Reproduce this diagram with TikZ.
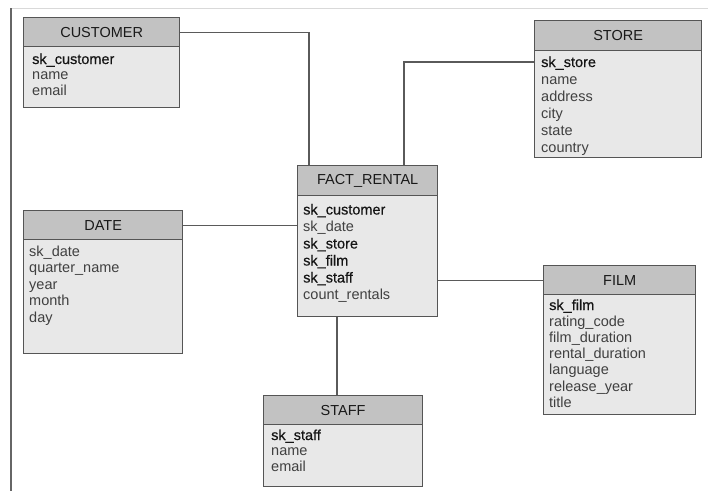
\documentclass[tikz,border=0pt]{standalone}
\usepackage{fontspec}
\setmainfont{Liberation Sans}
\newfontfamily\keyfont{Liberation Sans}[FakeBold=0.5]
\newfontfamily\midfont{Liberation Sans}[FakeBold=0.25]
\usetikzlibrary{calc}

\definecolor{hdrfill}{HTML}{C2C2C2}
\definecolor{bodyfill}{HTML}{E8E8E8}
\definecolor{edge}{HTML}{555555}
\definecolor{linkc}{HTML}{5A5A5A}
\definecolor{attrc}{HTML}{404040}
\definecolor{keyc}{HTML}{151515}

\tikzset{
  tbody/.style={draw=edge, line width=1.3pt, fill=bodyfill, inner sep=0pt, rectangle},
  thead/.style={draw=edge, line width=1.3pt, fill=hdrfill, inner sep=0pt, rectangle,
                font=\fontsize{14.5}{16}\selectfont, text=black!90},
  field/.style={inner sep=0pt, font=\fontsize{14.5}{16}\selectfont},
  pkfield/.style={text=keyc, font=\fontsize{14.5}{16}\keyfont},
  darkfield/.style={text=keyc, font=\fontsize{14.5}{16}\midfont},
  attrfield/.style={text=attrc},
  link/.style={draw=linkc, line width=1.1pt},
}

% one table's field rows, one named node per row
\newcommand\fieldlist[5]{%
  \foreach \txt/\kind [count=\i] in {#5} {%
    \node[field, \kind, anchor=base west] (#1-\i) at (#2, {#3+(\i-1)*#4}) {\txt};
  }%
}

\begin{document}
\begin{tikzpicture}[x=1pt, y=-1pt]
\useasboundingbox (0,0) rectangle (708,491);

% page frame
\draw[draw=black!15, line width=0.8pt] (11,8) -- (708,8);
\draw[draw=black!60, line width=1.4pt] (11,8) -- (11,491);

% CUSTOMER
\node[tbody, anchor=north west, minimum width=156, minimum height=90] (customer) at (23,17) {};
\node[thead, anchor=north west, minimum width=156, minimum height=29] (customer-h) at (customer.north west) {CUSTOMER};
\fieldlist{customer}{32}{64}{15.5}{sk\_customer/pkfield, name/attrfield, email/attrfield}

% STORE
\node[tbody, anchor=north west, minimum width=167, minimum height=137] (store) at (534,20) {};
\node[thead, anchor=north west, minimum width=167, minimum height=30] (store-h) at (store.north west) {STORE};
\fieldlist{store}{541}{67}{17}{sk\_store/pkfield, name/attrfield, address/attrfield, city/attrfield, state/attrfield, country/attrfield}

% FACT_RENTAL
\node[tbody, anchor=north west, minimum width=140, minimum height=151] (fact) at (297,165) {};
\node[thead, anchor=north west, minimum width=140, minimum height=30] (fact-h) at (fact.north west) {FACT\_RENTAL};
\fieldlist{fact}{303}{214.5}{17}{sk\_customer/pkfield, sk\_date/attrfield, sk\_store/darkfield, sk\_film/darkfield, sk\_staff/pkfield, count\_rentals/attrfield}

% DATE
\node[tbody, anchor=north west, minimum width=159, minimum height=143] (date) at (23,210) {};
\node[thead, anchor=north west, minimum width=159, minimum height=29] (date-h) at (date.north west) {DATE};
\fieldlist{date}{29}{256}{16.6}{sk\_date/attrfield, quarter\_name/attrfield, year/attrfield, month/attrfield, day/attrfield}

% FILM
\node[tbody, anchor=north west, minimum width=152, minimum height=149] (film) at (543,265) {};
\node[thead, anchor=north west, minimum width=152, minimum height=29] (film-h) at (film.north west) {FILM};
\fieldlist{film}{549}{310}{16.2}{sk\_film/pkfield, rating\_code/attrfield, film\_duration/attrfield, rental\_duration/attrfield, language/attrfield, release\_year/attrfield, title/attrfield}

% STAFF
\node[tbody, anchor=north west, minimum width=159, minimum height=91] (staff) at (263,395) {};
\node[thead, anchor=north west, minimum width=159, minimum height=29] (staff-h) at (staff.north west) {STAFF};
\fieldlist{staff}{271}{440}{15.6}{sk\_staff/pkfield, name/attrfield, email/attrfield}

% relationships
\coordinate (fact-top-a) at ($(fact.north west)+(12,0)$);
\coordinate (fact-top-b) at ($(fact.north west)+(107,0)$);
\coordinate (store-port) at ($(store.north west)+(0,42)$);
\coordinate (staff-port) at ($(staff.north west)+(74,0)$);

\draw[link] (customer-h.east) -| (fact-top-a);
\draw[link] (store-port) -| (fact-top-b);
\draw[link] (date-h.east) -- (date-h.east -| fact.west);
\draw[link] (fact.east |- film-h.west) -- (film-h.west);
\draw[link] (staff-port |- fact.south) -- (staff-port);
\end{tikzpicture}
\end{document}
